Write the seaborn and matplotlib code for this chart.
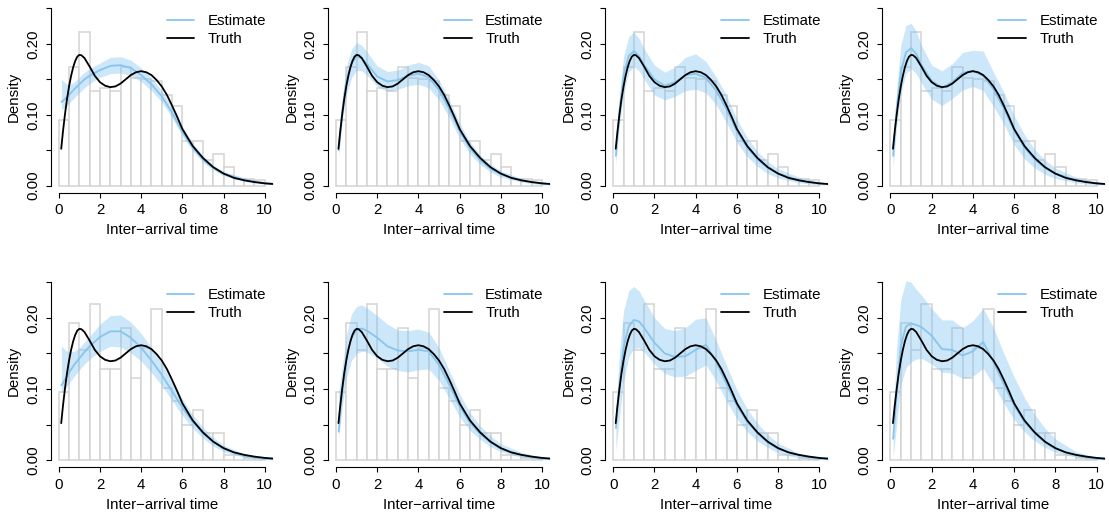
import matplotlib
matplotlib.use("Agg")
import matplotlib.pyplot as plt
import seaborn as sns

# Histogram of observed inter-arrival times (density scale, bin width 0.5)
bin_edges = [0.0, 0.5, 1.0, 1.5, 2.0, 2.5, 3.0, 3.5, 4.0, 4.5, 5.0,
             5.5, 6.0, 6.5, 7.0, 7.5, 8.0, 8.5, 9.0, 9.5, 10.0]
hist_top = [0.092, 0.168, 0.217, 0.134, 0.138, 0.134, 0.167, 0.152, 0.150, 0.147,
            0.128, 0.113, 0.063, 0.063, 0.036, 0.044, 0.026, 0.010, 0.010, 0.0075]
hist_bottom = [0.096, 0.193, 0.155, 0.219, 0.128, 0.128, 0.186, 0.116, 0.157, 0.212,
               0.102, 0.083, 0.050, 0.070, 0.038, 0.038, 0.007, 0.007, 0.003, 0.002]

# True inter-arrival density
truth_x = [0.12, 0.2, 0.3, 0.4, 0.5, 0.6, 0.7, 0.8, 0.9, 1.0, 1.1, 1.25, 1.5, 1.75,
           2.0, 2.25, 2.5, 2.75, 3.0, 3.25, 3.5, 3.75, 4.0, 4.25, 4.5, 4.75, 5.0,
           5.25, 5.5, 5.75, 6.0, 6.5, 7.0, 7.5, 8.0, 8.5, 9.0, 9.5, 10.0, 10.45]
truth_y = [0.052, 0.075, 0.100, 0.122, 0.140, 0.155, 0.167, 0.176, 0.182, 0.1845,
           0.184, 0.180, 0.168, 0.155, 0.146, 0.141, 0.139, 0.140, 0.144, 0.150,
           0.156, 0.160, 0.1615, 0.160, 0.156, 0.149, 0.140, 0.128, 0.113, 0.097,
           0.080, 0.056, 0.039, 0.026, 0.017, 0.011, 0.0075, 0.005, 0.0032, 0.0022]

# Posterior mean and 95% band of the estimated density, one set per panel
est_x = [0.13, 0.3, 0.5, 0.75, 1.0, 1.25, 1.5, 2.0, 2.5, 3.0, 3.5, 4.0, 4.5, 5.0,
         5.5, 6.0, 6.5, 7.0, 7.5, 8.0, 9.0, 10.0, 10.45]

mean_1 = [0.118, 0.122, 0.128, 0.136, 0.143, 0.150, 0.155, 0.163, 0.169, 0.170, 0.166, 0.156,
          0.143, 0.126, 0.103, 0.076, 0.054, 0.037, 0.025, 0.017, 0.008, 0.0035, 0.0025]
lo_1 = [0.108, 0.110, 0.116, 0.124, 0.131, 0.138, 0.144, 0.153, 0.158, 0.159, 0.155, 0.147,
        0.134, 0.118, 0.096, 0.070, 0.049, 0.033, 0.022, 0.014, 0.006, 0.002, 0.0015]
hi_1 = [0.150, 0.145, 0.142, 0.146, 0.153, 0.160, 0.165, 0.173, 0.181, 0.182, 0.177, 0.166,
        0.152, 0.134, 0.110, 0.083, 0.060, 0.042, 0.029, 0.020, 0.011, 0.005, 0.0035]

mean_2 = [0.050, 0.105, 0.148, 0.172, 0.182, 0.180, 0.172, 0.154, 0.147, 0.149, 0.155, 0.158,
          0.153, 0.135, 0.108, 0.077, 0.053, 0.036, 0.024, 0.016, 0.007, 0.003, 0.002]
lo_2 = [0.040, 0.090, 0.128, 0.152, 0.163, 0.162, 0.156, 0.140, 0.133, 0.136, 0.141, 0.143,
        0.138, 0.121, 0.096, 0.067, 0.045, 0.030, 0.019, 0.012, 0.005, 0.001, 0.001]
hi_2 = [0.062, 0.120, 0.168, 0.192, 0.202, 0.198, 0.189, 0.169, 0.161, 0.163, 0.170, 0.174,
        0.169, 0.149, 0.121, 0.088, 0.062, 0.043, 0.030, 0.021, 0.010, 0.005, 0.003]

mean_3 = [0.042, 0.105, 0.155, 0.183, 0.190, 0.183, 0.170, 0.150, 0.141, 0.146, 0.156, 0.158,
          0.152, 0.134, 0.108, 0.077, 0.054, 0.037, 0.025, 0.017, 0.0075, 0.003, 0.002]
lo_3 = [0.030, 0.085, 0.130, 0.160, 0.168, 0.162, 0.150, 0.128, 0.121, 0.126, 0.134, 0.136,
        0.131, 0.114, 0.089, 0.061, 0.041, 0.027, 0.017, 0.011, 0.004, 0.001, 0.001]
hi_3 = [0.058, 0.125, 0.182, 0.210, 0.217, 0.208, 0.193, 0.170, 0.160, 0.167, 0.181, 0.186,
        0.175, 0.153, 0.127, 0.094, 0.068, 0.048, 0.034, 0.024, 0.012, 0.005, 0.003]

mean_4 = [0.042, 0.108, 0.160, 0.188, 0.194, 0.186, 0.170, 0.148, 0.138, 0.146, 0.159, 0.162,
          0.155, 0.136, 0.109, 0.078, 0.054, 0.037, 0.025, 0.017, 0.0075, 0.003, 0.002]
lo_4 = [0.025, 0.085, 0.130, 0.158, 0.165, 0.158, 0.145, 0.122, 0.113, 0.123, 0.135, 0.140,
        0.134, 0.112, 0.087, 0.058, 0.038, 0.025, 0.016, 0.010, 0.004, 0.001, 0.001]
hi_4 = [0.062, 0.135, 0.198, 0.226, 0.229, 0.218, 0.198, 0.170, 0.162, 0.172, 0.188, 0.191,
        0.190, 0.160, 0.132, 0.099, 0.072, 0.051, 0.036, 0.025, 0.012, 0.005, 0.003]

mean_5 = [0.105, 0.113, 0.123, 0.134, 0.143, 0.152, 0.160, 0.173, 0.181, 0.181, 0.172, 0.158,
          0.140, 0.120, 0.097, 0.074, 0.054, 0.038, 0.026, 0.016, 0.006, 0.002, 0.0015]
lo_5 = [0.095, 0.100, 0.108, 0.118, 0.127, 0.135, 0.142, 0.153, 0.160, 0.159, 0.151, 0.139,
        0.123, 0.105, 0.084, 0.063, 0.045, 0.031, 0.020, 0.012, 0.004, 0.001, 0.0005]
hi_5 = [0.161, 0.155, 0.152, 0.153, 0.158, 0.166, 0.174, 0.191, 0.203, 0.204, 0.194, 0.178,
        0.158, 0.136, 0.111, 0.086, 0.064, 0.046, 0.032, 0.021, 0.009, 0.003, 0.002]

mean_6 = [0.040, 0.095, 0.145, 0.172, 0.183, 0.185, 0.182, 0.172, 0.160, 0.154, 0.153, 0.155,
          0.153, 0.134, 0.106, 0.076, 0.053, 0.037, 0.025, 0.016, 0.007, 0.002, 0.0015]
lo_6 = [0.030, 0.075, 0.115, 0.140, 0.150, 0.153, 0.152, 0.143, 0.132, 0.126, 0.124, 0.127,
        0.128, 0.112, 0.087, 0.061, 0.042, 0.029, 0.019, 0.012, 0.004, 0.001, 0.001]
hi_6 = [0.095, 0.130, 0.175, 0.205, 0.216, 0.218, 0.214, 0.203, 0.191, 0.183, 0.182, 0.184,
        0.180, 0.158, 0.126, 0.093, 0.067, 0.048, 0.034, 0.023, 0.011, 0.004, 0.003]

mean_7 = [0.045, 0.105, 0.158, 0.188, 0.197, 0.195, 0.186, 0.165, 0.150, 0.145, 0.146, 0.155,
          0.162, 0.138, 0.107, 0.077, 0.054, 0.038, 0.025, 0.016, 0.007, 0.002, 0.0015]
lo_7 = [0.013, 0.060, 0.110, 0.145, 0.157, 0.158, 0.152, 0.135, 0.122, 0.117, 0.118, 0.126,
        0.134, 0.111, 0.083, 0.058, 0.040, 0.027, 0.018, 0.010, 0.003, 0.001, 0.0005]
hi_7 = [0.070, 0.150, 0.210, 0.238, 0.244, 0.238, 0.225, 0.200, 0.185, 0.182, 0.186, 0.198,
        0.200, 0.168, 0.133, 0.099, 0.072, 0.052, 0.036, 0.024, 0.010, 0.004, 0.003]

mean_8 = [0.030, 0.095, 0.160, 0.188, 0.192, 0.190, 0.187, 0.175, 0.156, 0.155, 0.147, 0.153,
          0.166, 0.138, 0.107, 0.077, 0.054, 0.038, 0.025, 0.016, 0.007, 0.002, 0.0015]
lo_8 = [0.005, 0.050, 0.105, 0.130, 0.138, 0.142, 0.143, 0.135, 0.124, 0.122, 0.115, 0.118,
        0.129, 0.106, 0.080, 0.057, 0.040, 0.027, 0.018, 0.011, 0.004, 0.001, 0.0005]
hi_8 = [0.060, 0.160, 0.225, 0.252, 0.250, 0.240, 0.232, 0.213, 0.197, 0.197, 0.186, 0.196,
        0.213, 0.186, 0.150, 0.117, 0.088, 0.064, 0.045, 0.030, 0.012, 0.004, 0.003]

panels = [
    (hist_top, mean_1, lo_1, hi_1), (hist_top, mean_2, lo_2, hi_2),
    (hist_top, mean_3, lo_3, hi_3), (hist_top, mean_4, lo_4, hi_4),
    (hist_bottom, mean_5, lo_5, hi_5), (hist_bottom, mean_6, lo_6, hi_6),
    (hist_bottom, mean_7, lo_7, hi_7), (hist_bottom, mean_8, lo_8, hi_8),
]

sns.set_theme(style="ticks", rc={
    "axes.edgecolor": "black", "xtick.color": "black", "ytick.color": "black",
    "text.color": "black", "axes.labelcolor": "black", "axes.linewidth": 0.8,
})
plt.rcParams["font.family"] = ["Liberation Sans", "DejaVu Sans"]

FS = 10.8
W, H = 1109, 516
fig = plt.figure(figsize=(W / 100, H / 100), dpi=100)

bin_centers = [(a + b) / 2 for a, b in zip(bin_edges[:-1], bin_edges[1:])]
row_box = [(1.4, 192.7), (275.1, 467.3)]

for k, (hist, mean, lo, hi) in enumerate(panels):
    r, c = divmod(k, 4)
    top_px, bot_px = row_box[r]
    left_px = c * W / 4 + 50.5
    ax = fig.add_axes([left_px / W, 1 - bot_px / H, 222.5 / W, (bot_px - top_px) / H])

    sns.histplot(x=bin_centers, weights=hist, bins=bin_edges, stat="count", ax=ax,
                 color="white", edgecolor="#d3d3d3", linewidth=1.1, alpha=1)
    ax.fill_between(est_x, lo, hi, color="#78c0f0", alpha=0.38, linewidth=0)
    sns.lineplot(x=est_x, y=mean, ax=ax, color="#87c5ef", linewidth=1.3, label="Estimate")
    sns.lineplot(x=truth_x, y=truth_y, ax=ax, color="black", linewidth=1.3, label="Truth")

    ax.set_xlim(-0.4, 10.4)
    ax.set_ylim(-0.01, 0.26)
    for side in ("top", "right"):
        ax.spines[side].set_visible(False)
    ax.spines["left"].set_bounds(0, 0.25)
    ax.spines["bottom"].set_bounds(0, 10)

    ax.set_xticks([0, 2, 4, 6, 8, 10])
    ax.set_xticklabels(["0", "2", "4", "6", "8", "10"])
    ax.set_yticks([0, 0.05, 0.10, 0.15, 0.20, 0.25])
    ax.set_yticklabels(["0.00", "", "0.10", "", "0.20", ""], rotation=90, va="center")
    ax.tick_params(axis="both", direction="out", length=3.6, width=0.8, labelsize=FS)
    ax.tick_params(axis="x", pad=4.0)
    ax.tick_params(axis="y", pad=4.0)

    ax.set_xlabel("Inter\u2212arrival time", fontsize=FS)
    ax.set_ylabel("Density", fontsize=FS)
    ax.xaxis.set_label_coords(0.5, -37.3 / (bot_px - top_px))
    ax.xaxis.label.set_va("center")
    ax.yaxis.set_label_coords(-36.5 / 222.5, 0.5)
    ax.yaxis.label.set_va("center")

    ax.legend(loc="upper right", bbox_to_anchor=(1.028, 1.0), frameon=False,
              fontsize=FS, handlelength=1.85, handletextpad=0.9, labelspacing=0.26,
              borderaxespad=0, borderpad=0.85)

fig.savefig("out.png", dpi=100)
